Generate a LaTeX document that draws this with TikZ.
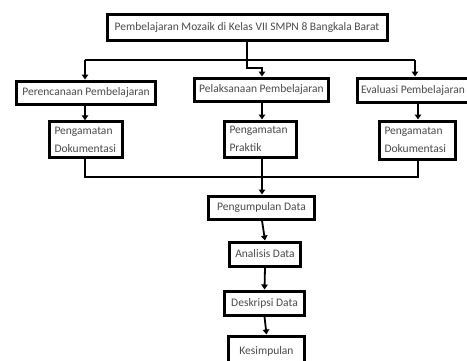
\documentclass[tikz,border=0pt]{standalone}
\usepackage{fontspec}
\setmainfont{Carlito}
\usetikzlibrary{arrows.meta}
\definecolor{txtgray}{HTML}{4A4A4A}

\tikzset{
  box/.style={draw, line width=3pt, text=txtgray, inner sep=4pt,
    font=\fontsize{11.5}{18}\selectfont},
  obsbox/.style={box, align=left, text width=#1, inner sep=5pt},
  link/.style={line width=1.8pt},
  arr/.style={link, -{Triangle[width=6.5pt,length=5pt]}}
}

\begin{document}
\begin{tikzpicture}[x=1pt,y=-1pt]
\useasboundingbox (0,0) rectangle (467,360);
\clip (0,0) rectangle (467,360);
% top
\node[box, minimum width=280pt, minimum height=26pt] (topic) at (247,27.5)
  {Pembelajaran Mozaik di Kelas VII SMPN 8 Bangkala Barat};
% stages
\node[box, minimum width=139pt, minimum height=23pt] (plan) at (86,92.5)
  {Perencanaan Pembelajaran};
\node[box, minimum width=134pt, minimum height=23pt] (exec) at (261.5,89.5)
  {Pelaksanaan Pembelajaran};
\node[box, anchor=west, minimum height=24pt, inner xsep=3.5pt] (eval) at (356,90)
  {Evaluasi Pembelajaran};
% observations
\node[obsbox=63pt, minimum height=35pt] (obsplan) at (86,139.5)
  {Pengamatan\\Dokumentasi};
\node[obsbox=62pt, minimum height=36pt] (obsexec) at (260.5,139)
  {Pengamatan\\Praktik};
\node[obsbox=66pt, minimum height=38pt] (obseval) at (417.5,140)
  {Pengamatan\\Dokumentasi};
% data steps
\node[box, minimum width=106pt, minimum height=23pt] (collect) at (261.5,207.5)
  {Pengumpulan Data};
\node[box, minimum width=71pt, minimum height=24pt] (analysis) at (265,254)
  {Analisis Data};
\node[box, minimum width=80pt, minimum height=24pt] (describe) at (264.5,303)
  {Deskripsi Data};
\node[box, minimum width=76pt, minimum height=30pt] (conclude) at (266.5,351)
  {Kesimpulan};

% branch from top
\coordinate (split) at (247,60);
\coordinate (splitL) at (85,60);
\coordinate (splitR) at (415,60);
\coordinate (jog) at (247,68);
\draw[link] (topic.south) -- (split);
\draw[link] (splitL) -- (splitR);
\draw[arr] (splitL) -- (plan.north -| splitL);
\draw[arr] (splitR) -- (eval.north -| splitR);
\draw[arr] (split) -- (jog) -- (262,68) -- (exec.north -| 262,0);
% stage to observation
\draw[arr] (plan.south -| 85,0) -- (obsplan.north -| 85,0);
\draw[arr] (exec.south -| 262,0) -- (obsexec.north -| 262,0);
\draw[arr] (eval.south -| 418,0) -- (obseval.north -| 418,0);
% join
\coordinate (joinL) at (85,177);
\coordinate (joinM) at (262,177);
\coordinate (joinR) at (418,177);
\draw[link] (obsplan.south -| joinL) -- (joinL) -- (joinR) -- (obseval.south -| joinR);
\draw[arr] (obsexec.south -| joinM) -- (joinM) -- (collect.north -| joinM);
% chain
\draw[arr] (collect.south -| 262,0) -- (analysis.north);
\draw[arr] (analysis.south) -- (describe.north);
\draw[arr] (describe.south) -- (conclude.north);
\end{tikzpicture}
\end{document}
